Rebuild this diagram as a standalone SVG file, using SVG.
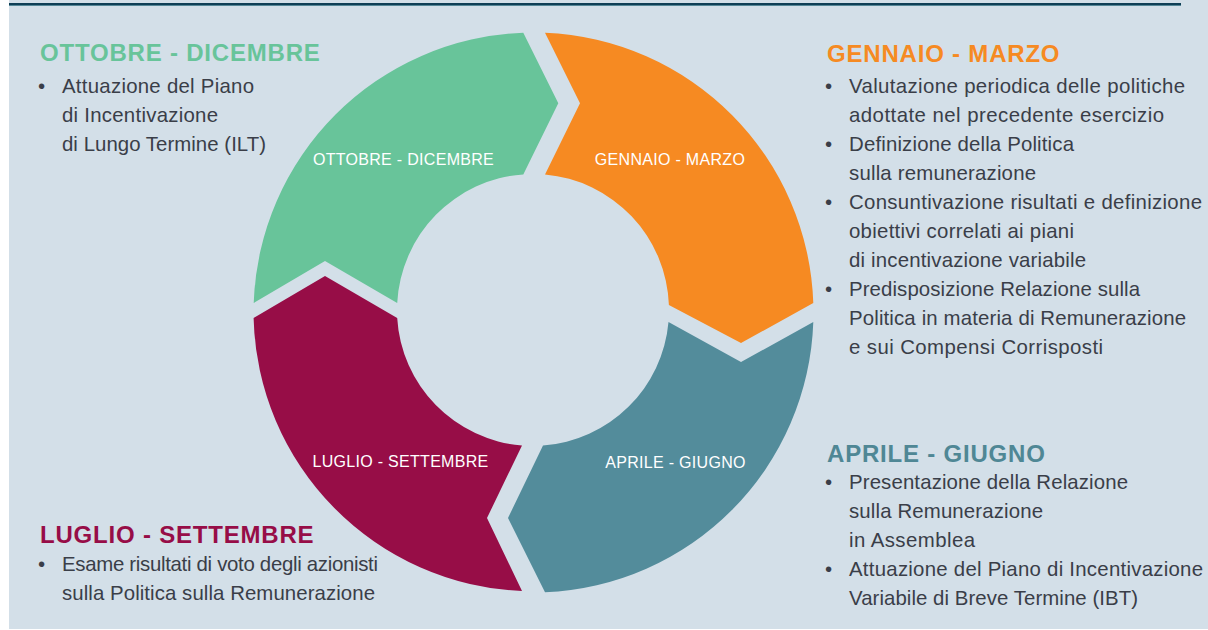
<svg xmlns="http://www.w3.org/2000/svg" width="1208" height="630" viewBox="0 0 1208 630">
<style>
.bg{fill:#d3dfe8}
.head{font-family:"Liberation Sans",Arial,sans-serif;font-weight:bold;font-size:24px;letter-spacing:0.8px}
.body{font-family:"Liberation Sans",Arial,sans-serif;font-size:20.4px;fill:#3a3e48}
.lbl{font-family:"Liberation Sans",Arial,sans-serif;font-size:16px;fill:#ffffff;text-anchor:middle;letter-spacing:0.3px}
</style>
<rect x="9" y="0" width="1199" height="629" class="bg"/>
<rect x="9" y="3" width="1172" height="2.2" fill="#0e3e55"/>
<rect x="9" y="5.2" width="1172" height="0.8" fill="#3f7a8a"/>

<g id="ring">
<g id="seg-ottobre">
<path d="M253.7,303 A280,280 0 0 1 523.3,32.7 L558.3,103.3 L523.3,174.4 A136,136 0 0 0 397.2,303 L325,261 Z" fill="#68c49a"/>
<text class="lbl" x="403.5" y="165">OTTOBRE - DICEMBRE</text>
</g>
<g id="seg-gennaio">
<path d="M545,32.7 A280,280 0 0 1 813.3,303 L741,343 L668.9,305 A136,136 0 0 0 545,174.5 L580,103.3 Z" fill="#f68a22"/>
<text class="lbl" x="670" y="165">GENNAIO - MARZO</text>
</g>
<g id="seg-aprile">
<path d="M813.3,322 A280,280 0 0 1 545,592.3 L508,518 L543,445.6 A136,136 0 0 0 668.5,322 L741,362 Z" fill="#538c9b"/>
<text class="lbl" x="675.5" y="468">APRILE - GIUGNO</text>
</g>
<g id="seg-luglio">
<path d="M522,591 A280,280 0 0 1 253.6,318 L325,276 L397.2,318 A136,136 0 0 0 522,445.5 L487,518 Z" fill="#970d47"/>
<text class="lbl" x="400.5" y="467">LUGLIO - SETTEMBRE</text>
</g>
</g>

<g id="connectors"></g>

<g id="txt-ottobre">
<text class="head" x="40" y="61" fill="#68c49a">OTTOBRE - DICEMBRE</text>
<text class="body" x="38" y="93">•</text>
<text class="body" x="62" y="93" textLength="192">Attuazione del Piano</text>
<text class="body" x="62" y="122" textLength="156">di Incentivazione</text>
<text class="body" x="62" y="151" textLength="204">di Lungo Termine (ILT)</text>
</g>

<g id="txt-gennaio">
<text class="head" x="827" y="62" fill="#f68a22">GENNAIO - MARZO</text>
<text class="body" x="825" y="93">•</text>
<text class="body" x="849" y="93" textLength="336">Valutazione periodica delle politiche</text>
<text class="body" x="849" y="122" textLength="315">adottate nel precedente esercizio</text>
<text class="body" x="825" y="151">•</text>
<text class="body" x="849" y="151" textLength="225">Definizione della Politica</text>
<text class="body" x="849" y="180" textLength="187">sulla remunerazione</text>
<text class="body" x="825" y="209">•</text>
<text class="body" x="849" y="209" textLength="353">Consuntivazione risultati e definizione</text>
<text class="body" x="849" y="238" textLength="225">obiettivi correlati ai piani</text>
<text class="body" x="849" y="267" textLength="237">di incentivazione variabile</text>
<text class="body" x="825" y="296">•</text>
<text class="body" x="849" y="296" textLength="291">Predisposizione Relazione sulla</text>
<text class="body" x="849" y="325" textLength="337">Politica in materia di Remunerazione</text>
<text class="body" x="849" y="354" textLength="254">e sui Compensi Corrisposti</text>
</g>

<g id="txt-aprile">
<text class="head" x="827" y="462" fill="#4f8795">APRILE - GIUGNO</text>
<text class="body" x="825" y="489">•</text>
<text class="body" x="849" y="489" textLength="279">Presentazione della Relazione</text>
<text class="body" x="849" y="518" textLength="194">sulla Remunerazione</text>
<text class="body" x="849" y="547" textLength="126">in Assemblea</text>
<text class="body" x="825" y="576">•</text>
<text class="body" x="849" y="576" textLength="354">Attuazione del Piano di Incentivazione</text>
<text class="body" x="849" y="605" textLength="289">Variabile di Breve Termine (IBT)</text>
</g>

<g id="txt-luglio">
<text class="head" x="40" y="543" fill="#970d47">LUGLIO - SETTEMBRE</text>
<text class="body" x="38" y="571">•</text>
<text class="body" x="62" y="571" textLength="316">Esame risultati di voto degli azionisti</text>
<text class="body" x="62" y="600" textLength="313">sulla Politica sulla Remunerazione</text>
</g>
</svg>
